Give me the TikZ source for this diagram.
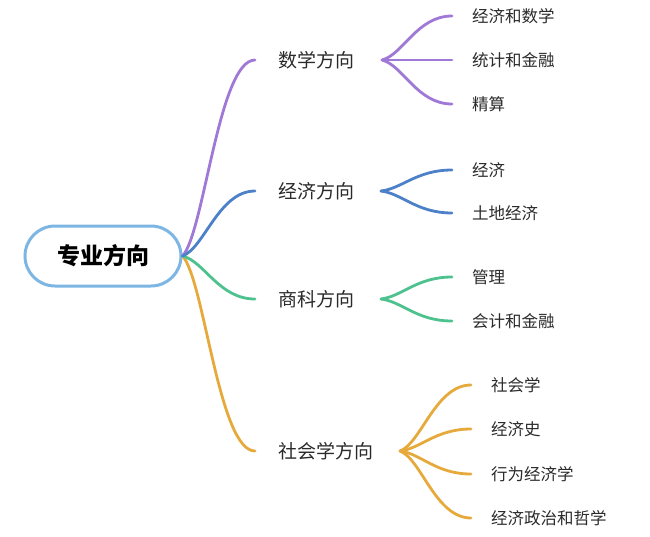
\documentclass[tikz,border=0pt]{standalone}
\usepackage{fontspec}
\setmainfont{Noto Sans CJK SC}
\usetikzlibrary{calc}
\definecolor{cpurple}{HTML}{A078D6}
\definecolor{cblue}{HTML}{4C80C8}
\definecolor{cgreen}{HTML}{4EC28E}
\definecolor{corange}{HTML}{E6AA3C}
\definecolor{croot}{HTML}{7DB6E2}
\definecolor{ctext}{HTML}{2A2A2A}
\tikzset{
  rootbox/.style={draw=croot, line width=3pt, rounded corners=30pt, minimum width=156pt, minimum height=60pt, fill=white, text=black, font=\fontsize{23}{25}\selectfont\bfseries, inner sep=0pt},
  lvone/.style={anchor=west, inner sep=0pt, text=ctext, font=\fontsize{19}{21}\selectfont},
  lvtwo/.style={anchor=west, inner sep=0pt, text=ctext, font=\fontsize{16.5}{18}\selectfont},
  branch/.style={line width=2.8pt, line cap=round},
}
\newcommand{\curveto}[3]{%
  \draw[branch,#3] let \p1=(#1), \p2=(#2) in (\p1) .. controls ({\x1+0.3*(\x2-\x1)},{\y1+0.12*(\y2-\y1)}) and ({\x1+0.5*(\x2-\x1)},{\y2}) .. (\p2);}
\begin{document}
\begin{tikzpicture}[x=1pt,y=-1pt]
\useasboundingbox (0,0) rectangle (650,536);
% level 2 text
\node[lvone] (n1) at (278,60) {数学方向};
\node[lvone] (n2) at (278,191) {经济方向};
\node[lvone] (n3) at (278,299) {商科方向};
\node[lvone] (n4) at (278,451) {社会学方向};
% leaf text
\node[lvtwo] (a1) at (472,16) {经济和数学};
\node[lvtwo] (a2) at (472,60) {统计和金融};
\node[lvtwo] (a3) at (472,104) {精算};
\node[lvtwo] (b1) at (472,170) {经济};
\node[lvtwo] (b2) at (472,213) {土地经济};
\node[lvtwo] (c1) at (472,277) {管理};
\node[lvtwo] (c2) at (472,321) {会计和金融};
\node[lvtwo] (d1) at (491,385) {社会学};
\node[lvtwo] (d2) at (491,429) {经济史};
\node[lvtwo] (d3) at (491,474) {行为经济学};
\node[lvtwo] (d4) at (491,518) {经济政治和哲学};
% coordinates
\coordinate (e1) at ($(n1.west)+(-23,0)$);
\coordinate (e2) at ($(n2.west)+(-23,0)$);
\coordinate (e3) at ($(n3.west)+(-23,0)$);
\coordinate (e4) at ($(n4.west)+(-23,0)$);
\coordinate (f1) at (382,60);
\coordinate (f2) at (381,191);
\coordinate (f3) at (381,299);
\coordinate (f4) at (400,451);
\foreach \n in {a1,a2,a3,b1,b2,c1,c2,d1,d2,d3,d4}{\coordinate (t\n) at ($(\n.west)+(-20,0)$);}
% main branches
\curveto{f1}{ta1}{cpurple}
\curveto{f1}{ta2}{cpurple}
\curveto{f1}{ta3}{cpurple}
\curveto{f2}{tb1}{cblue}
\curveto{f2}{tb2}{cblue}
\curveto{f3}{tc1}{cgreen}
\curveto{f3}{tc2}{cgreen}
\curveto{f4}{td1}{corange}
\curveto{f4}{td2}{corange}
\curveto{f4}{td3}{corange}
\curveto{f4}{td4}{corange}
\node[rootbox] (root) at (103,256) {专业方向};
\curveto{root.east}{e4}{corange}
\curveto{root.east}{e3}{cgreen}
\curveto{root.east}{e1}{cpurple}
\curveto{root.east}{e2}{cblue}
\end{tikzpicture}
\end{document}
